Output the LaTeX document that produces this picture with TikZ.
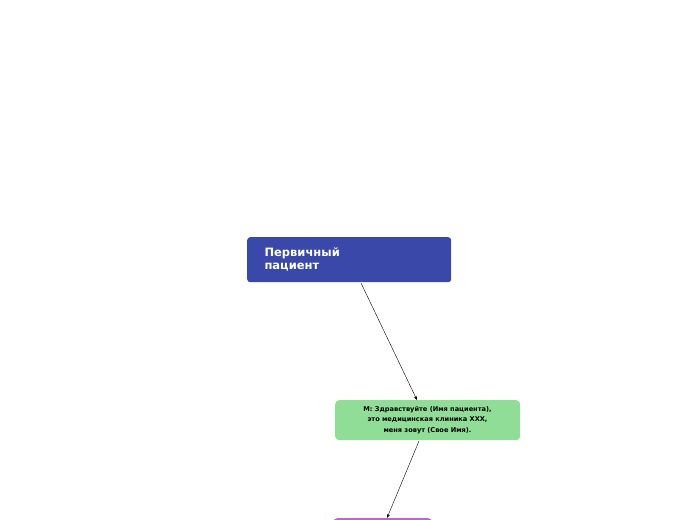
\documentclass[tikz,border=0pt]{standalone}
\usepackage{fontspec}
\setmainfont{DejaVu Sans}
\usetikzlibrary{arrows.meta}
\begin{document}
\begin{tikzpicture}[x=1pt,y=-1pt]

% Define styles
\tikzset{
    topic/.style={fill=blue!55!black!70!cyan!20!blue, rounded corners=3pt, anchor=north west, inner sep=0pt},
    reply/.style={fill=green!45!gray!40!white, rounded corners=4pt, anchor=north west, inner sep=0pt},
    link/.style={-{Stealth[length=4pt,width=3pt]}, thin}
}
\definecolor{mainblue}{RGB}{58,72,170}
\definecolor{replygreen}{RGB}{143,221,150}
\definecolor{nextpurple}{RGB}{190,100,210}

% zeige den Teil, der durch die Graphik benutzt wird
\useasboundingbox (0,0) rectangle (697,520);
\clip (0,0) rectangle (697,520);

% Root node
\node[topic, fill=mainblue, minimum width=204pt, minimum height=45pt] (ROOT) at (247,237) {};
\node[anchor=west, text=white, font=\bfseries\fontsize{11.5}{13}\selectfont, align=left] (ROOTTXT) at (261,259.5) {Первичный\\пациент};

% Greeting node
\node[reply, fill=replygreen, minimum width=185pt, minimum height=40pt] (GREET) at (335,400) {};
\node[font=\bfseries\fontsize{6.6}{10.5}\selectfont, align=center] (GREETTXT) at (427.5,420) {М: Здравствуйте (Имя пациента),\\это медицинская клиника ХХХ,\\меня зовут (Свое Имя).};

% Next node (cut off)
\node[reply, fill=nextpurple, minimum width=99pt, minimum height=30pt] (NEXT) at (333,518) {};

% Connectors
\draw[link] (361,283) -- (417,400);
\draw[link] (419,441) -- (387,518);

\end{tikzpicture}
\end{document}
